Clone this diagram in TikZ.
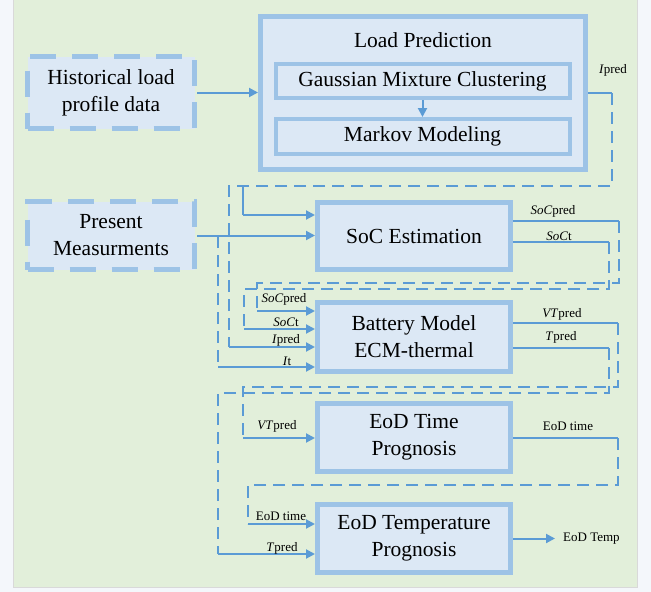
\documentclass[tikz,border=0pt]{standalone}
\usepackage{fontspec}
\setmainfont{Liberation Serif}
\usetikzlibrary{shapes,arrows.meta}
\definecolor{boxfill}{HTML}{DCE8F5}
\definecolor{boxline}{HTML}{9DC3E6}
\definecolor{wirecol}{HTML}{5B9BD5}
\definecolor{bggreen}{HTML}{E2EFDA}
\definecolor{pagecol}{HTML}{F4F7FB}
\tikzstyle{blk} = [rectangle,draw=boxline,fill=boxfill,line width=5pt,text centered,align=center,inner sep=0pt,font=\fontsize{21.5}{27}\selectfont]
\tikzstyle{dblk} = [blk,dash pattern=on 26pt off 16pt]
\tikzstyle{sub} = [blk,line width=4pt]
\tikzstyle{wire} = [draw=wirecol,line width=2pt]
\tikzstyle{dwire} = [wire,dash pattern=on 12pt off 7pt]
\tikzstyle{arr} = [wire,-{Triangle[length=9pt,width=9pt]}]
\tikzstyle{lbl} = [inner sep=0pt,font=\fontsize{13}{15}\selectfont]

\begin{document}
\begin{tikzpicture}[x=1pt,y=-1pt]

    \useasboundingbox[fill=pagecol] (0,0) rectangle (651,592);
    \fill[bggreen,draw=black!15] (13,-5) rectangle (637,587);

    \node[dblk,minimum width=167,minimum height=72](hist) at (111,92.5) {Historical load\\profile data};
    \node[blk,minimum width=325,minimum height=153](lp) at (423,93) {};
    \node[font=\fontsize{21.5}{27}\selectfont](lptitle) at (423,40) {Load Prediction};
    \node[sub,minimum width=294,minimum height=34](gmc) at (422.5,81) {Gaussian Mixture Clustering};
    \node[sub,minimum width=294,minimum height=35](mm) at (422.5,136.5) {Markov Modeling};
    \node[dblk,minimum width=167,minimum height=68](pm) at (111,235.5) {Present\\Measurments};
    \node[blk,minimum width=193,minimum height=67](soc) at (414,236) {SoC Estimation};
    \node[blk,minimum width=193,minimum height=69](bat) at (414,337) {Battery Model\\ECM-thermal};
    \node[blk,minimum width=193,minimum height=68](eodt) at (414,437.5) {EoD Time\\Prognosis};
    \node[blk,minimum width=193,minimum height=68](eodT) at (414,538.5) {EoD Temperature\\Prognosis};
    \node[lbl,inner xsep=8pt,anchor=west](etemp) at (555,538.5) {EoD Temp};

    \coordinate (ipc) at (612,93);
    \coordinate (ipa) at (229,186);
    \coordinate (ipb) at (243,186);
    \coordinate (ipin) at (229,347);
    \coordinate (ipsoc) at (243,215);
    \coordinate (pmb) at (218,236);
    \coordinate (itin) at (218,367);
    \coordinate (sp1) at (619,221);
    \coordinate (sp2) at (257,283);
    \coordinate (spin) at (257,311);
    \coordinate (st1) at (609,242);
    \coordinate (st2) at (244,289);
    \coordinate (stin) at (244,329);
    \coordinate (vt1) at (618,323);
    \coordinate (vt2) at (243,387);
    \coordinate (vtin) at (243,438);
    \coordinate (tp1) at (609,348);
    \coordinate (tp2) at (218,393);
    \coordinate (tpin) at (218,554);
    \coordinate (et1) at (618,438);
    \coordinate (et2) at (248,485);
    \coordinate (etin) at (248,524);

    \draw[arr](hist.east) -- (hist.east -| lp.west);
    \draw[arr](gmc) -- (mm);

    \draw[wire](lp.east) -- (ipc);
    \draw[dwire](ipc) |- (ipa) -- (ipin);
    \draw[arr](ipin) -- (ipin -| bat.west);
    \draw[wire](ipb) -- (ipsoc);
    \draw[arr](ipsoc) -- (ipsoc -| soc.west);

    \draw[arr](pm.east) -- (pm.east -| soc.west);
    \draw[dwire](pmb) -- (itin);
    \draw[arr](itin) -- (itin -| bat.west);

    \draw[wire](sp1 -| soc.east) -- (sp1);
    \draw[dwire](sp1) |- (sp2) -- (spin);
    \draw[arr](spin) -- (spin -| bat.west);
    \draw[wire](st1 -| soc.east) -- (st1);
    \draw[dwire](st1) |- (st2) -- (stin);
    \draw[arr](stin) -- (stin -| bat.west);

    \draw[wire](vt1 -| bat.east) -- (vt1);
    \draw[dwire](vt1) |- (vt2) -- (vtin);
    \draw[arr](vtin) -- (vtin -| eodt.west);
    \draw[wire](tp1 -| bat.east) -- (tp1);
    \draw[dwire](tp1) |- (tp2) -- (tpin);
    \draw[arr](tpin) -- (tpin -| eodT.west);

    \draw[wire](et1 -| eodt.east) -- (et1);
    \draw[dwire](et1) |- (et2) -- (etin);
    \draw[arr](etin) -- (etin -| eodT.west);

    \draw[arr](eodT.east) -- (etemp.west);

    \node[lbl](lipred) at (613,70) {\textit{I}pred};
    \node[lbl](lspout) at (553,211) {\textit{SoC}pred};
    \node[lbl](lstout) at (559,236) {\textit{SoC}t};
    \node[lbl](lvtout) at (562,314) {\textit{VT}pred};
    \node[lbl](ltpout) at (561,337) {\textit{T}pred};
    \node[lbl](letout) at (568,426) {EoD time};
    \node[lbl](lspin) at (284,299) {\textit{SoC}pred};
    \node[lbl](lstin) at (286,322) {\textit{SoC}t};
    \node[lbl](lipin) at (286,340) {\textit{I}pred};
    \node[lbl](litin) at (287,361) {\textit{I}t};
    \node[lbl](lvtin) at (277,426) {\textit{VT}pred};
    \node[lbl](letin) at (281,516) {EoD time};
    \node[lbl](ltpin) at (282,548) {\textit{T}pred};

\end{tikzpicture}
\end{document}
